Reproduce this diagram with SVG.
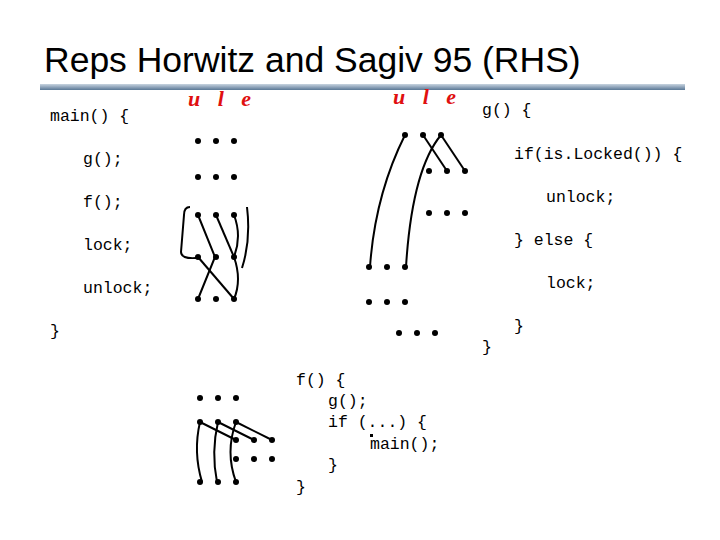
<svg xmlns="http://www.w3.org/2000/svg" width="720" height="540" viewBox="0 0 720 540">
<defs><linearGradient id="bar" x1="0" y1="0" x2="0" y2="1"><stop offset="0" stop-color="#c8d4e0"/><stop offset="1" stop-color="#5a7896"/></linearGradient></defs>
<style>
.c{font-family:"Liberation Mono",monospace;font-size:16.5px;fill:#000}
.t{font-family:"Liberation Sans",sans-serif;font-size:35.5px;fill:#000}
.r{font-family:"Liberation Serif",serif;font-size:22px;fill:#e01010;font-style:italic;font-weight:bold;letter-spacing:6px}
.d{fill:#000}
.w{fill:none;stroke:#000;stroke-width:2}
</style>
<rect width="720" height="540" fill="#fff"/>
<text class="t" x="44" y="72">Reps Horwitz and Sagiv 95 (RHS)</text>
<rect x="40" y="84" width="645" height="6" fill="url(#bar)"/>
<g id="labels">
<text class="r" x="188" y="106">u l e</text>
<text class="r" x="393" y="104">u l e</text>
</g>
<g id="main-code">
<text class="c" x="50" y="121">main() {</text>
<text class="c" x="83" y="164">g();</text>
<text class="c" x="83" y="207">f();</text>
<text class="c" x="83" y="250">lock;</text>
<text class="c" x="83" y="293">unlock;</text>
<text class="c" x="50" y="336">}</text>
</g>
<g id="g-code">
<text class="c" x="482" y="115">g() {</text>
<text class="c" x="514" y="159">if(is.Locked()) {</text>
<text class="c" x="546" y="202">unlock;</text>
<text class="c" x="514" y="245">} else {</text>
<text class="c" x="546" y="288">lock;</text>
<text class="c" x="514" y="331">}</text>
<text class="c" x="482" y="352">}</text>
</g>
<g id="f-code">
<text class="c" x="296" y="385">f() {</text>
<text class="c" x="328" y="406">g();</text>
<text class="c" x="328" y="427">if (...) {</text>
<text class="c" x="370" y="449">main();</text>
<text class="c" x="328" y="470">}</text>
<text class="c" x="296" y="492">}</text>
</g>
<g id="dots" class="d">
<circle cx="198" cy="141" r="3"/><circle cx="216" cy="141" r="3"/><circle cx="234" cy="141" r="3"/>
<circle cx="198" cy="177" r="3"/><circle cx="216" cy="177" r="3"/><circle cx="234" cy="177" r="3"/>
<circle cx="198" cy="215" r="3"/><circle cx="216" cy="215" r="3"/><circle cx="234" cy="215" r="3"/>
<circle cx="198" cy="257" r="3"/><circle cx="216" cy="257" r="3"/><circle cx="234" cy="257" r="3"/>
<circle cx="198" cy="299" r="3"/><circle cx="216" cy="299" r="3"/><circle cx="234" cy="299" r="3"/>
<circle cx="405" cy="135" r="3"/><circle cx="423" cy="135" r="3"/><circle cx="441" cy="135" r="3"/>
<circle cx="429" cy="171" r="3"/><circle cx="447" cy="171" r="3"/><circle cx="465" cy="171" r="3"/>
<circle cx="429" cy="213" r="3"/><circle cx="447" cy="213" r="3"/><circle cx="465" cy="213" r="3"/>
<circle cx="369" cy="267" r="3"/><circle cx="387" cy="267" r="3"/><circle cx="405" cy="267" r="3"/>
<circle cx="369" cy="302" r="3"/><circle cx="387" cy="302" r="3"/><circle cx="405" cy="302" r="3"/>
<circle cx="399" cy="333" r="3"/><circle cx="417" cy="333" r="3"/><circle cx="435" cy="333" r="3"/>
<circle cx="200" cy="398" r="3"/><circle cx="218" cy="398" r="3"/><circle cx="236" cy="398" r="3"/>
<circle cx="200" cy="422" r="3"/><circle cx="218" cy="422" r="3"/><circle cx="236" cy="422" r="3"/>
<circle cx="236" cy="440" r="3"/><circle cx="254" cy="440" r="3"/><circle cx="272" cy="440" r="3"/>
<circle cx="236" cy="459" r="3"/><circle cx="254" cy="459" r="3"/><circle cx="272" cy="459" r="3"/>
<circle cx="200" cy="482" r="3"/><circle cx="218" cy="482" r="3"/><circle cx="236" cy="482" r="3"/>
<rect x="370" y="434" width="3" height="3"/>
</g>
<g id="connectors" class="w">
<path d="M190,207 Q184,207 184,215 L181,252 Q181,259 196,258"/>
<path d="M247,207 Q251,240 242,268"/>
<path d="M198,215 L215,257 L198,299"/>
<path d="M216,215 L234,257"/>
<path d="M234,215 Q242,236 234,257"/>
<path d="M198,257 L234,299"/>
<path d="M234,257 Q242,280 234,299"/>
<path d="M405,135 Q375,195 370,267"/>
<path d="M441,135 Q412,170 406,267"/>
<path d="M423,135 L447,171"/>
<path d="M441,135 L465,171"/>
<path d="M200,422 L236,440"/>
<path d="M218,422 L254,440"/>
<path d="M236,422 L272,440"/>
<path d="M200,422 Q193,452 202,482"/>
<path d="M218,422 Q211,452 217,482"/>
<path d="M236,422 Q225,452 236,482"/>
</g>
</svg>
